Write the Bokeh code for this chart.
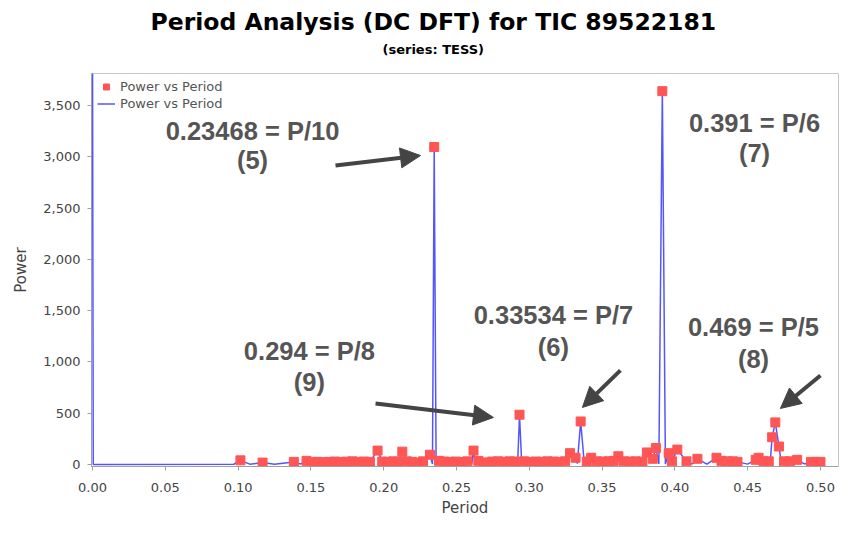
from bokeh.plotting import figure
from bokeh.models import (Range1d, Title, Legend, LegendItem, Label, Arrow, NormalHead,
                          NumeralTickFormatter, SingleIntervalTicker)
from bokeh.embed import file_html
from bokeh.resources import INLINE

# ---- data ----
marker_period = [0.1016, 0.1168, 0.1383, 0.1470, 0.1505, 0.1545, 0.1585, 0.1625, 0.1665,
                 0.1705, 0.1745, 0.1785, 0.1825, 0.1865, 0.1905, 0.1958, 0.1990, 0.2025,
                 0.2065, 0.2100, 0.2128, 0.2160, 0.2195, 0.2235, 0.2270, 0.2318, 0.2347,
                 0.2380, 0.2415, 0.2455, 0.2495, 0.2535, 0.2575, 0.2617, 0.2650, 0.2690,
                 0.2745, 0.2785, 0.2825, 0.2865, 0.2900, 0.2933, 0.2965, 0.3005, 0.3045,
                 0.3085, 0.3125, 0.3165, 0.3205, 0.3245, 0.3280, 0.3318, 0.3353, 0.3395,
                 0.3425, 0.3465, 0.3505, 0.3545, 0.3580, 0.3612, 0.3650, 0.3690, 0.3730,
                 0.3777, 0.3808, 0.3848, 0.3870, 0.3914, 0.3958, 0.3980, 0.4017, 0.4080,
                 0.4155, 0.4286, 0.4320, 0.4360, 0.4400, 0.4430, 0.4555, 0.4575, 0.4610,
                 0.4645, 0.4668, 0.4690, 0.4715, 0.4750, 0.4790, 0.4840, 0.4935, 0.4970,
                 0.5000]
marker_power = [40, 18, 25, 35, 22, 25, 22, 25, 28,
                24, 27, 30, 25, 28, 25, 135, 28, 25,
                30, 26, 125, 30, 25, 18, 30, 95, 3095,
                35, 28, 25, 28, 24, 30, 135, 35, 20,
                28, 30, 26, 30, 28, 485, 30, 25, 28,
                26, 30, 28, 25, 30, 110, 65, 419, 28,
                65, 30, 28, 30, 35, 80, 30, 28, 30,
                28, 117, 55, 160, 3640, 110, 30, 145, 30,
                55, 65, 35, 30, 30, 25, 45, 65, 30,
                30, 265, 410, 175, 30, 30, 45, 25, 25,
                25]

# extra points of the line series (no markers)
line_only_period = [0.0, 0.0005, 0.009, 0.097, 0.108, 0.125, 0.143, 0.2335, 0.2360, 0.2605,
                    0.2630, 0.2720, 0.2920, 0.2948, 0.3330, 0.3378, 0.3890, 0.3935, 0.4120,
                    0.4220, 0.4500, 0.4655, 0.4732, 0.4890]
line_only_power = [4000, 0, 0, 2, 3, 3, 5, 5, 5, 5,
                   5, 5, 8, 8, 8, 5, 5, 5, 5,
                   3, 3, 20, 5, 5]

x_ticks_interval = 0.05
y_ticks_interval = 500

series_label = "Power vs Period"
annotations = ["0.23468 = P/10", "(5)", "0.391 = P/6", "(7)", "0.33534 = P/7", "(6)",
               "0.294 = P/8", "(9)", "0.469 = P/5", "(8)"]

pairs = sorted(zip(marker_period + line_only_period, marker_power + line_only_power),
               key=lambda t: t[0])
line_period = [a for a, b in pairs]
line_power = [b for a, b in pairs]

# ---- figure ----
p = figure(frame_width=747, frame_height=393, output_backend="svg", toolbar_location=None,
           x_range=Range1d(-0.0007, 0.5124), y_range=Range1d(-20, 3812),
           min_border_left=91, min_border_right=10, min_border_top=73, min_border_bottom=80,
           background_fill_color="white", border_fill_color="white")
p.title = None
p.outline_line_color = "#c8c8c8"
p.outline_line_width = 1
p.xgrid.visible = False
p.ygrid.visible = False

line_r = p.line(line_period, line_power, line_color="#5555ff", line_width=1.5)
mk_r = p.scatter(marker_period, marker_power, marker="square", size=9,
                 fill_color="#ff5555", line_color="#ff5555")

for ax in (p.xaxis[0], p.yaxis[0]):
    ax.axis_line_color = "#a0a0a0"
    ax.major_tick_line_color = "#a0a0a0"
    ax.major_tick_out = 4
    ax.major_tick_in = 0
    ax.minor_tick_line_color = None
    ax.major_label_text_font = "DejaVu Sans"
    ax.major_label_text_font_size = "13px"
    ax.major_label_text_color = "#444444"
    ax.axis_label_text_font = "DejaVu Sans"
    ax.axis_label_text_font_size = "15px"
    ax.axis_label_text_font_style = "normal"
    ax.axis_label_text_color = "#444444"

p.xaxis.ticker = SingleIntervalTicker(interval=x_ticks_interval)
p.yaxis.ticker = SingleIntervalTicker(interval=y_ticks_interval)
p.xaxis.formatter = NumeralTickFormatter(format="0.00")
p.yaxis.formatter = NumeralTickFormatter(format="0,0")
p.xaxis.axis_label = "Period"
p.yaxis.axis_label = "Power"
p.xaxis.major_label_standoff = 12
p.yaxis.major_label_standoff = 7
p.xaxis.axis_label_standoff = 4
p.yaxis.axis_label_standoff = 10

# titles (spacer first so it sits next to the frame)
p.add_layout(Title(text=" ", text_font_size="1px", standoff=12), "above")
p.add_layout(Title(text="(series: TESS)", align="left", offset=291, text_font="DejaVu Sans",
                   text_font_size="13px", text_font_style="bold", text_color="black",
                   standoff=4), "above")
p.add_layout(Title(text="Period Analysis (DC DFT) for TIC 89522181", align="left", offset=59,
                   text_font="DejaVu Sans", text_font_size="23.5px",
                   text_font_style="bold", text_color="black", standoff=4), "above")

# annotations
ann_x = [0.1099, 0.1099, 0.4547, 0.4547, 0.3166, 0.3166, 0.149, 0.149, 0.454, 0.454]
ann_y = [3256, 2964, 3334, 3032, 1453, 1141, 1111, 800, 1345, 1033]
for t, x, y in zip(annotations, ann_x, ann_y):
    p.add_layout(Label(x=x, y=y, text=t, text_align="center", text_baseline="middle",
                       text_font="Liberation Sans", text_font_size="25.5px",
                       text_font_style="bold", text_color="#555555"))

arrows = [((0.1669, 2915), (0.2253, 3012)),
          ((0.1944, 595), (0.2754, 458)),
          ((0.3626, 917), (0.3365, 556)),
          ((0.5000, 868), (0.4725, 546))]
for (x0, y0), (x1, y1) in arrows:
    p.add_layout(Arrow(x_start=x0, y_start=y0, x_end=x1, y_end=y1, line_width=4,
                       line_color="#444444",
                       end=NormalHead(size=20, fill_color="#444444", line_color="#444444")))

legend = Legend(items=[LegendItem(label=series_label, renderers=[mk_r]),
                       LegendItem(label=series_label, renderers=[line_r])],
                orientation="vertical", location="top_left",
                label_text_font="DejaVu Sans", label_text_font_size="13px",
                label_text_color="#555555", border_line_color=None,
                background_fill_color="white", background_fill_alpha=1,
                glyph_width=18, glyph_height=15, label_height=15,
                spacing=2, padding=2, margin=6, label_standoff=5)
p.add_layout(legend)

open("out.html", "w").write(file_html(p, INLINE))
